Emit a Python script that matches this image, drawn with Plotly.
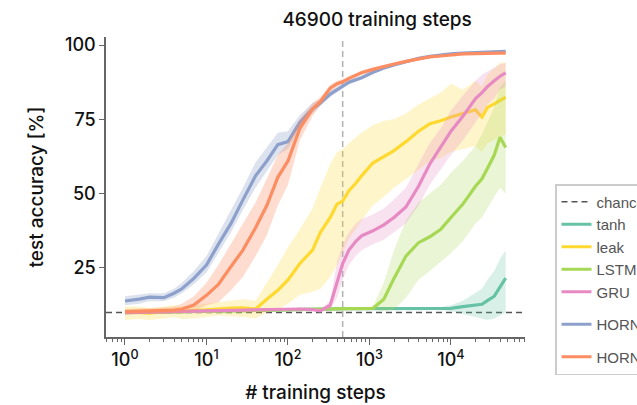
import math
import plotly.graph_objects as go

# evaluation points (training steps, log-spaced)
steps = [1, 1.5, 2, 3, 4, 5, 7, 10, 14, 20, 28, 40, 55, 75, 100, 140, 200, 250, 330,
         400, 469, 560, 680, 800, 1100, 1500, 2000, 2800, 4000, 5500, 7500, 10000,
         14000, 20000, 24000, 28000, 34000, 40000, 46900]

# mean test accuracy [%] and shaded spread per model
tanh_mean = [10.0, 10.1, 10.1, 10.2, 10.2, 10.3, 10.3, 10.4, 10.5, 10.5, 10.6, 10.7, 10.8, 10.9, 11.0,
             11.0, 11.1, 11.1, 11.2, 11.2, 11.3, 11.3, 11.3, 11.3, 11.3, 11.3, 11.3, 11.3, 11.3, 11.3,
             11.3, 11.4, 12.0, 12.4, 12.8, 14.0, 15.5, 18.6, 21.6]
tanh_lo = [9.7, 9.8, 9.8, 9.9, 9.9, 10.0, 10.0, 10.1, 10.2, 10.2, 10.3, 10.4, 10.5, 10.6, 10.7,
           10.7, 10.8, 10.8, 10.9, 10.9, 11.0, 11.0, 11.0, 11.0, 11.0, 11.0, 11.0, 11.0, 11.0, 11.0,
           10.8, 10.5, 9.5, 8.5, 8.0, 7.5, 8.0, 9.0, 10.0]
tanh_hi = [10.3, 10.4, 10.4, 10.5, 10.5, 10.6, 10.6, 10.7, 10.8, 10.8, 10.9, 11.0, 11.1, 11.2, 11.3,
           11.3, 11.4, 11.4, 11.5, 11.5, 11.6, 11.6, 11.6, 11.6, 11.6, 11.6, 11.6, 11.6, 11.6, 11.7,
           11.9, 12.5, 14.0, 16.5, 18.0, 21.0, 24.0, 28.0, 31.0]

leak_mean = [10.2, 10.0, 9.8, 10.3, 10.5, 10.3, 10.6, 11.0, 11.3, 11.5, 11.6, 11.2, 14.5, 17.5, 21.0,
             26.5, 31.0, 37.0, 42.0, 46.5, 47.5, 51.0, 53.5, 56.0, 60.3, 62.5, 64.5, 67.5, 71.0, 73.5,
             74.5, 75.8, 77.0, 78.2, 75.8, 79.0, 80.2, 81.5, 82.5]
leak_lo = [7.5, 7.8, 7.5, 8.0, 8.5, 7.8, 8.0, 8.5, 9.0, 8.8, 8.5, 8.0, 10.0, 11.0, 13.0,
           16.0, 17.0, 18.0, 22.0, 26.0, 30.0, 35.0, 38.0, 41.0, 46.0, 49.0, 52.0, 55.0, 58.0, 61.0,
           62.0, 64.0, 65.0, 66.0, 64.0, 67.0, 68.0, 69.0, 70.0]
leak_hi = [12.0, 12.0, 11.5, 12.0, 12.5, 12.0, 12.5, 13.0, 13.5, 14.0, 14.5, 14.0, 20.0, 26.0, 32.0,
           38.0, 45.0, 52.0, 60.0, 64.0, 65.0, 67.0, 69.0, 70.5, 73.0, 74.5, 75.0, 77.0, 80.0, 82.0,
           84.0, 87.0, 85.0, 88.0, 86.0, 90.0, 92.0, 94.0, 94.0]

lstm_mean = [10.0, 10.1, 10.1, 10.2, 10.2, 10.3, 10.3, 10.4, 10.5, 10.5, 10.6, 10.7, 10.8, 10.9, 11.0,
             11.0, 11.1, 11.1, 11.2, 11.2, 11.3, 11.3, 11.3, 11.3, 11.4, 14.5, 21.5, 29.0, 33.5, 35.5,
             38.0, 42.0, 46.5, 52.5, 55.0, 58.5, 63.0, 69.0, 65.5]
lstm_lo = [9.7, 9.8, 9.8, 9.9, 9.9, 10.0, 10.0, 10.1, 10.2, 10.2, 10.3, 10.4, 10.5, 10.6, 10.7,
           10.7, 10.8, 10.8, 10.9, 10.9, 11.0, 11.0, 11.0, 11.0, 11.0, 10.5, 11.0, 15.0, 21.0, 24.0,
           27.0, 30.0, 34.0, 40.0, 42.0, 45.0, 49.0, 52.0, 50.0]
lstm_hi = [10.3, 10.4, 10.4, 10.5, 10.5, 10.6, 10.6, 10.7, 10.8, 10.8, 10.9, 11.0, 11.1, 11.2, 11.3,
           11.3, 11.4, 11.4, 11.5, 11.5, 11.6, 11.6, 11.6, 11.6, 12.0, 20.0, 31.0, 41.0, 47.0, 50.0,
           53.0, 57.0, 61.0, 66.0, 70.0, 74.0, 79.0, 86.0, 88.0]

gru_mean = [10.0, 10.1, 10.1, 10.2, 10.2, 10.2, 10.3, 10.3, 10.4, 10.5, 10.6, 10.8, 10.9, 11.0, 11.1,
            11.2, 11.0, 10.6, 12.5, 20.5, 26.5, 31.0, 34.0, 35.8, 37.5, 39.5, 42.0, 45.5, 52.5, 60.0,
            65.5, 71.0, 76.0, 82.0, 84.0, 86.0, 88.0, 89.5, 90.6]
gru_lo = [9.7, 9.8, 9.8, 9.9, 9.9, 9.9, 10.0, 10.0, 10.1, 10.2, 10.3, 10.5, 10.6, 10.7, 10.8,
          10.9, 10.7, 10.2, 11.0, 15.0, 21.0, 26.0, 29.0, 31.0, 33.0, 34.5, 37.0, 40.0, 46.0, 53.0,
          58.0, 63.0, 68.0, 74.0, 77.0, 80.0, 82.0, 85.0, 86.0]
gru_hi = [10.3, 10.4, 10.4, 10.5, 10.5, 10.5, 10.6, 10.6, 10.7, 10.8, 10.9, 11.1, 11.2, 11.3, 11.4,
          11.5, 11.3, 11.0, 14.0, 27.0, 33.0, 37.0, 40.0, 41.5, 43.0, 45.0, 48.0, 52.0, 60.0, 67.0,
          72.0, 78.0, 83.0, 88.0, 90.0, 91.0, 92.5, 93.5, 94.0]

horn_hom_mean = [13.9, 14.5, 15.2, 15.0, 16.5, 18.0, 21.5, 26.0, 33.0, 40.0, 47.9, 56.0, 61.0, 66.5, 67.5,
                 74.0, 78.5, 80.5, 83.5, 85.0, 86.0, 87.5, 88.3, 89.0, 90.8, 92.3, 93.3, 94.5, 95.5, 96.2,
                 96.7, 97.0, 97.3, 97.5, 97.6, 97.7, 97.8, 97.8, 97.9]
horn_hom_lo = [12.5, 13.0, 13.8, 13.8, 15.0, 16.5, 19.5, 23.5, 30.0, 37.0, 44.5, 52.0, 57.5, 63.0, 65.0,
               72.0, 77.0, 79.5, 82.5, 84.0, 85.2, 86.7, 87.6, 88.3, 90.1, 91.7, 92.8, 94.0, 95.1, 95.8,
               96.3, 96.7, 97.0, 97.2, 97.3, 97.4, 97.5, 97.5, 97.6]
horn_hom_hi = [15.5, 16.0, 16.5, 16.5, 18.0, 20.0, 24.0, 29.0, 36.5, 44.0, 52.0, 60.5, 65.5, 70.5, 71.0,
               76.5, 80.5, 81.8, 84.6, 86.0, 86.8, 88.3, 89.0, 89.7, 91.5, 92.9, 93.8, 95.0, 95.9, 96.6,
               97.1, 97.3, 97.6, 97.8, 97.9, 98.0, 98.1, 98.1, 98.2]

horn_het_mean = [10.3, 10.4, 10.5, 10.6, 10.8, 11.2, 12.5, 15.8, 19.5, 25.5, 31.0, 38.5, 46.0, 55.5, 61.0,
                 72.0, 78.5, 81.0, 85.5, 87.0, 87.6, 88.8, 89.8, 90.7, 91.8, 92.8, 93.6, 94.5, 95.3, 96.0,
                 96.3, 96.7, 97.0, 97.1, 97.2, 97.2, 97.3, 97.3, 97.3]
horn_het_lo = [9.5, 9.6, 9.6, 9.7, 9.8, 10.0, 10.5, 12.5, 13.5, 17.5, 22.0, 29.0, 36.0, 46.0, 53.0,
               68.0, 76.0, 79.5, 84.3, 86.0, 86.7, 88.0, 89.1, 90.0, 91.2, 92.3, 93.1, 94.0, 94.9, 95.6,
               95.9, 96.3, 96.6, 96.8, 96.9, 96.9, 97.0, 97.0, 97.0]
horn_het_hi = [11.2, 11.3, 11.5, 11.7, 12.0, 13.0, 15.5, 20.0, 26.0, 33.0, 40.0, 47.0, 55.0, 63.0, 67.0,
               75.0, 80.5, 82.5, 86.6, 88.0, 88.5, 89.6, 90.5, 91.4, 92.4, 93.3, 94.1, 95.0, 95.7, 96.4,
               96.7, 97.1, 97.4, 97.5, 97.6, 97.6, 97.7, 97.7, 97.7]

chance_level = 10.0
epoch_steps = 469
total_steps = 46900

x_range = [0.585, 81000]
y_range = [1.78, 102.7]

models = [
    ("tanh", tanh_mean, tanh_lo, tanh_hi, "#66c2a5", "rgba(102,194,165,0.25)", "g1"),
    ("leak", leak_mean, leak_lo, leak_hi, "#ffd92f", "rgba(255,217,47,0.25)", "g1"),
    ("LSTM", lstm_mean, lstm_lo, lstm_hi, "#a6d854", "rgba(166,216,84,0.25)", "g1"),
    ("GRU", gru_mean, gru_lo, gru_hi, "#e78ac3", "rgba(231,138,195,0.25)", "g1"),
    ("HORN<sub>hom</sub>", horn_hom_mean, horn_hom_lo, horn_hom_hi, "#8da0cb", "rgba(141,160,203,0.3)", "g2"),
    ("HORN<sub>het</sub>", horn_het_mean, horn_het_lo, horn_het_hi, "#fc8d62", "rgba(252,141,98,0.3)", "g3"),
]

fig = go.Figure()

# chance level across the full axis
fig.add_trace(go.Scatter(
    x=x_range, y=[chance_level, chance_level], mode="lines", name="chance",
    line=dict(color="#555555", width=1.5, dash="6px,4px"), legendgroup="g1",
    hoverinfo="skip"))

# one epoch marker
fig.add_trace(go.Scatter(
    x=[epoch_steps, epoch_steps], y=y_range, mode="lines", showlegend=False,
    line=dict(color="#b0b0b0", width=1.5, dash="6px,4px"), hoverinfo="skip"))

for name, mean, lo, hi, col, fill, grp in models:
    fig.add_trace(go.Scatter(
        x=steps + steps[::-1], y=hi + lo[::-1], fill="toself", fillcolor=fill,
        line=dict(width=0), mode="lines", showlegend=False, hoverinfo="skip",
        legendgroup=grp))
    fig.add_trace(go.Scatter(
        x=steps, y=mean, mode="lines", name=name, legendgroup=grp,
        line=dict(color=col, width=3.2)))

main_font = "Inter, Lato, sans-serif"

fig.update_layout(
    width=637, height=405,
    margin=dict(l=106, r=112, t=37, b=68, autoexpand=False),
    paper_bgcolor="white", plot_bgcolor="white",
    font=dict(family=main_font, size=18, color="#111111", weight=500),
    title=dict(text=f"{total_steps} training steps", xref="container", x=0.592,
               xanchor="center", yref="container", y=0.951, yanchor="middle",
               font=dict(family=main_font, size=19, color="#111111", weight=500)),
    legend=dict(x=1.0716, xanchor="left", y=0.51, yanchor="top",
                bordercolor="#cccccc", borderwidth=1.5, bgcolor="white",
                font=dict(family="Liberation Sans, Arial, sans-serif", size=15,
                          color="#555555", weight=400),
                tracegroupgap=10, traceorder="grouped"),
    showlegend=True,
)

fig.update_xaxes(
    type="log", range=[math.log10(x_range[0]), math.log10(x_range[1])],
    showline=True, linecolor="#666666", linewidth=1.5, mirror=False,
    showgrid=False, zeroline=False,
    ticks="outside", ticklen=6, tickwidth=1.3, tickcolor="#666666",
    tickvals=[1, 10, 100, 1000, 10000],
    ticktext=["10<sup>0</sup>", "10<sup>1</sup>", "10<sup>2</sup>", "10<sup>3</sup>", "10<sup>4</sup>"],
    tickfont=dict(size=18),
    minor=dict(ticks="outside", ticklen=3.5, tickwidth=1.1, tickcolor="#666666",
               dtick="D1", showgrid=False),
    title=dict(text="# training steps", font=dict(size=19), standoff=16),
)

fig.update_yaxes(
    range=y_range, showline=True, linecolor="#666666", linewidth=1.5,
    showgrid=False, zeroline=False,
    ticks="outside", ticklen=5, tickwidth=1.3, tickcolor="#666666",
    tickvals=[25, 50, 75, 100], tickfont=dict(size=18),
    title=dict(text="test accuracy [%]", font=dict(size=19), standoff=16),
)

fig.write_html("out.html")
